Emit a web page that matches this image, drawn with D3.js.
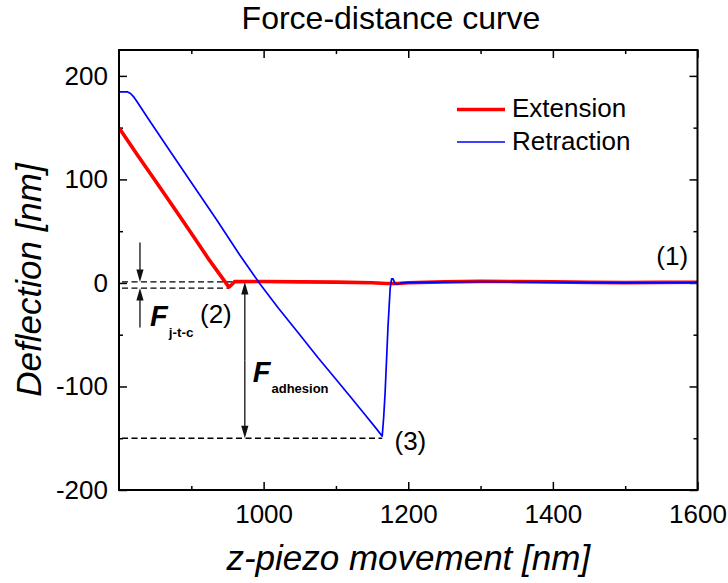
<!DOCTYPE html>
<html>
<head>
<meta charset="utf-8">
<script src="https://cdn.jsdelivr.net/npm/d3@7"></script>
<style>
  body { margin: 0; background: #fff; }
  svg text { font-family: "Liberation Sans", Arial, sans-serif; fill: #000; }
</style>
</head>
<body>
<div id="chart"></div>
<script>
// Extension curve (red) - z-piezo [nm], deflection [nm]
const extX = [800, 825, 850, 875, 900, 925, 952, 956, 960, 1000, 1050, 1100, 1150, 1170, 1185, 1200, 1250, 1300, 1350, 1400, 1450, 1500, 1550, 1600];
const extY = [150, 124, 99, 73.5, 48, 22, -4, -1.5, 1.3, 1.4, 1.0, 0.8, 0.2, -0.5, -0.6, 0.2, 1.0, 1.5, 1.3, 1.0, 0.5, 0.3, 0.5, 0.6];

// Retraction curve (blue)
const retX = [800, 812, 816, 820, 825, 840, 870, 900, 935, 967, 995, 1020, 1050, 1075, 1100, 1120, 1140, 1155, 1164, 1166, 1168, 1172, 1175, 1177, 1179, 1182, 1186, 1190, 1200, 1250, 1300, 1350, 1400, 1450, 1500, 1550, 1600];
const retY = [184.5, 184.5, 183, 180, 175, 159, 128, 97, 61, 27, -1, -24, -50, -72, -93, -110, -127, -140, -148, -130, -106, -42, -5, 4, 4, -1, -1, 0, 0.3, 0.8, 1.2, 1.0, 0.6, 0.3, 0, 0.2, 0.4];

// axes
const xDomain = [800, 1600];
const yDomain = [-200, 225];
const xMajor = [1000, 1200, 1400, 1600];
const xMinor = [900, 1100, 1300, 1500];
const yMajor = [-200, -100, 0, 100, 200];
const yMinor = [-150, -50, 50, 150];

const seriesNames = ["Extension", "Retraction"];
const seriesColors = ["#ff0000", "#0000ff"];

// annotation levels (deflection values)
const jtcTop = 1, jtcBottom = -5, jtcMinX = 952;
const adhTop = 1, adhBottom = -150, adhMinX = 1164;
const jtcArrowX = 829, adhArrowX = 974;
const pointLabels = [
  {text: "(1)", x: 1587, y: 17, anchor: "end"},
  {text: "(2)", x: 912, y: -39, anchor: "start"},
  {text: "(3)", x: 1181, y: -161, anchor: "start"}
];

const W = 728, H = 583;
const margin = {top: 50, right: 30.5, bottom: 93, left: 119};

const svg = d3.select("#chart").append("svg")
  .attr("width", W).attr("height", H);

const x = d3.scaleLinear().domain(xDomain).range([margin.left, W - margin.right]);
const y = d3.scaleLinear().domain(yDomain).range([H - margin.bottom, margin.top]);

const pLeft = margin.left, pRight = x.range()[1];
const pTop = margin.top, pBottom = y.range()[0];

svg.append("clipPath").attr("id", "clip")
  .append("rect")
  .attr("x", pLeft).attr("y", pTop)
  .attr("width", pRight - pLeft).attr("height", pBottom - pTop);

// axes with inward ticks
function styleAxis(g) {
  g.select(".domain").remove();
  g.selectAll(".tick line").attr("stroke", "#000").attr("stroke-width", 1.5);
  g.selectAll("text").style("font-size", "26px").attr("fill", "#000");
}
const plain = d => String(d);  // hyphen minus like the original

svg.append("g").attr("transform", `translate(0,${pBottom})`)
  .call(d3.axisBottom(x).tickValues(xMajor).tickSize(-8).tickPadding(15).tickFormat(plain))
  .call(styleAxis);
svg.append("g").attr("transform", `translate(0,${pBottom})`)
  .call(d3.axisBottom(x).tickValues(xMinor).tickSize(-4).tickFormat(""))
  .call(styleAxis);
svg.append("g").attr("transform", `translate(0,${pTop})`)
  .call(d3.axisTop(x).tickValues(xMajor).tickSize(-8).tickFormat(""))
  .call(styleAxis);
svg.append("g").attr("transform", `translate(0,${pTop})`)
  .call(d3.axisTop(x).tickValues(xMinor).tickSize(-4).tickFormat(""))
  .call(styleAxis);
svg.append("g").attr("transform", `translate(${pLeft},0)`)
  .call(d3.axisLeft(y).tickValues(yMajor).tickSize(-8).tickPadding(11).tickFormat(plain))
  .call(styleAxis);
svg.append("g").attr("transform", `translate(${pLeft},0)`)
  .call(d3.axisLeft(y).tickValues(yMinor).tickSize(-4).tickFormat(""))
  .call(styleAxis);
svg.append("g").attr("transform", `translate(${pRight},0)`)
  .call(d3.axisRight(y).tickValues(yMajor).tickSize(-8).tickFormat(""))
  .call(styleAxis);
svg.append("g").attr("transform", `translate(${pRight},0)`)
  .call(d3.axisRight(y).tickValues(yMinor).tickSize(-4).tickFormat(""))
  .call(styleAxis);

// dashed guide lines
const dashes = [
  [xDomain[0], jtcTop, 960, jtcTop],
  [xDomain[0], jtcBottom, jtcMinX, jtcBottom],
  [xDomain[0], adhBottom, adhMinX, adhBottom]
];
svg.append("g").selectAll("line").data(dashes).enter().append("line")
  .attr("x1", d => x(d[0]) + 3).attr("y1", d => y(d[1]))
  .attr("x2", d => x(d[2])).attr("y2", d => y(d[3]))
  .attr("stroke", "#000").attr("stroke-width", 1.3)
  .attr("stroke-dasharray", "6,3.5");

// curves
const line = d3.line().x(d => x(d[0])).y(d => y(d[1]));
const extData = extX.map((v, i) => [v, extY[i]]);
const retData = retX.map((v, i) => [v, retY[i]]);
const plot = svg.append("g").attr("clip-path", "url(#clip)");
plot.append("path").datum(extData).attr("d", line)
  .attr("fill", "none").attr("stroke", seriesColors[0]).attr("stroke-width", 3.6)
  .attr("stroke-linejoin", "round");
plot.append("path").datum(retData).attr("d", line)
  .attr("fill", "none").attr("stroke", seriesColors[1]).attr("stroke-width", 1.7)
  .attr("stroke-linejoin", "round");

// arrows
function arrow(xv, fromV, toV) {
  const px = x(xv), y0 = y(fromV), y1 = y(toV);
  const dir = y1 > y0 ? 1 : -1;
  const g = svg.append("g");
  g.append("line").attr("x1", px).attr("x2", px).attr("y1", y0).attr("y2", y1 - dir * 6)
    .attr("stroke", "#111").attr("stroke-width", 1.3);
  g.append("path")
    .attr("d", `M${px},${y1} L${px - 3.6},${y1 - dir * 12.5} L${px + 3.6},${y1 - dir * 12.5} Z`)
    .attr("fill", "#111");
}
arrow(jtcArrowX, 39, jtcTop);
arrow(jtcArrowX, -43, jtcBottom);
arrow(adhArrowX, -75, adhTop);
arrow(adhArrowX, -75, adhBottom);

// force labels
function forceLabel(xv, yv, sub, subSize) {
  const t = svg.append("text").attr("x", x(xv)).attr("y", y(yv));
  t.append("tspan").text("F").style("font-size", "29px")
    .style("font-weight", "bold").style("font-style", "italic");
  t.append("tspan").text(sub).attr("dx", 1).attr("dy", 11)
    .style("font-size", subSize + "px").style("font-weight", "bold");
}
forceLabel(843, -42, "j-t-c", 13.5);
forceLabel(985, -96, "adhesion", 13);

svg.append("g").selectAll("text").data(pointLabels).enter().append("text")
  .attr("x", d => x(d.x)).attr("y", d => y(d.y))
  .attr("text-anchor", d => d.anchor)
  .style("font-size", "26px")
  .text(d => d.text);

// frame
svg.append("rect")
  .attr("x", pLeft).attr("y", pTop)
  .attr("width", pRight - pLeft).attr("height", pBottom - pTop)
  .attr("fill", "none").attr("stroke", "#000").attr("stroke-width", 2);

// legend
const legend = svg.append("g").selectAll("g").data(seriesNames).enter().append("g")
  .attr("transform", (d, i) => `translate(457,${109.5 + i * 32.5})`);
legend.append("line").attr("x1", 0).attr("x2", 48)
  .attr("stroke", (d, i) => seriesColors[i])
  .attr("stroke-width", (d, i) => i === 0 ? 3.6 : 1.7);
legend.append("text").attr("x", 55).attr("y", 7.5)
  .style("font-size", "26px").text(d => d);

// titles
svg.append("text").attr("x", 391).attr("y", 28.5).attr("text-anchor", "middle")
  .style("font-size", "32px").text("Force-distance curve");
svg.append("text").attr("x", (pLeft + pRight) / 2).attr("y", 570).attr("text-anchor", "middle")
  .style("font-size", "35px").style("font-style", "italic").text("z-piezo movement [nm]");
svg.append("text")
  .attr("transform", `translate(41,${(pTop + pBottom) / 2 + 10}) rotate(-90)`)
  .attr("text-anchor", "middle")
  .style("font-size", "35px").style("font-style", "italic").text("Deflection [nm]");
</script>
</body>
</html>
